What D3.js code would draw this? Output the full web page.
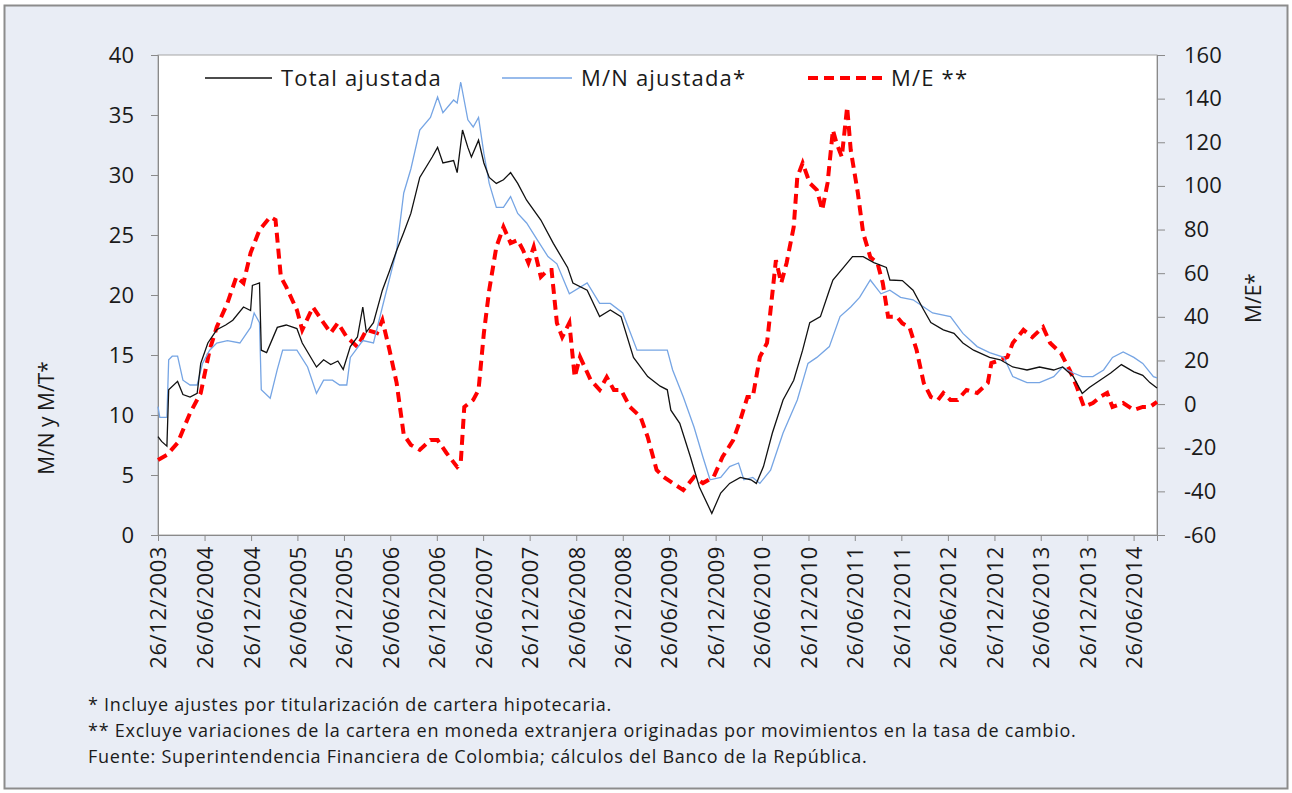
<!DOCTYPE html>
<html>
<head>
<meta charset="utf-8">
<script src="https://cdn.jsdelivr.net/npm/d3@7"></script>
<style>
  body { margin: 0; background: #fff; }
  text { font-family: "Open Sans", Lato, sans-serif; fill: #1a1a1a; }
  .axis path, .axis line { stroke: #8a8a8a; }
</style>
</head>
<body>
<svg id="chart" width="1292" height="793"></svg>
<script>
// weekly series, weeks counted from 26/12/2003
const startDate = new Date(2003, 11, 26);
const lastWeek = 561;

const tickLabels = ["26/12/2003", "26/06/2004", "26/12/2004", "26/06/2005", "26/12/2005",
  "26/06/2006", "26/12/2006", "26/06/2007", "26/12/2007", "26/06/2008", "26/12/2008",
  "26/06/2009", "26/12/2009", "26/06/2010", "26/12/2010", "26/06/2011", "26/12/2011",
  "26/06/2012", "26/12/2012", "26/06/2013", "26/12/2013", "26/06/2014"];

const seriesNames = ["Total ajustada", "M/N ajustada*", "M/E **"];

// Total ajustada (left axis)
const totalWeeks = [0, 2, 5, 6, 11, 14, 18, 22, 24, 28, 33, 38, 42, 48, 52, 53, 57, 58, 61, 67,
  72, 78, 81, 85, 89, 93, 97, 101, 104, 108, 112, 115, 117, 121, 126, 130, 134, 138, 142, 147,
  154, 157, 160, 166, 168, 171, 174, 176, 180, 183, 186, 190, 194, 198, 202, 207, 215, 222, 230, 233,
  241, 248, 254, 260, 267, 275, 282, 286, 288, 293, 299, 304, 311, 316, 321, 327, 333, 336, 340, 345,
  351, 357, 362, 366, 372, 377, 379, 385, 390, 396, 402, 409, 411, 418, 424, 430, 434, 441, 447, 452,
  458, 467, 473, 480, 488, 495, 503, 508, 514, 519, 523, 529, 535, 541, 548, 553, 557, 561];
const totalValues = [8.2, 7.8, 7.4, 12.1, 12.8, 11.7, 11.5, 11.8, 14.3, 16.0, 17.1, 17.5, 17.9, 19.0, 18.7, 20.8, 21.0, 15.4, 15.2, 17.3,
  17.5, 17.2, 16.0, 15.0, 14.0, 14.6, 14.2, 14.5, 13.8, 15.7, 16.5, 19.0, 16.9, 17.7, 20.4, 22.0, 23.7, 25.2, 26.8, 29.8,
  31.5, 32.3, 31.0, 31.2, 30.2, 33.75, 32.3, 31.5, 32.9, 31.0, 29.8, 29.3, 29.6, 30.2, 29.3, 27.9, 26.25, 24.3, 22.3, 21.0,
  20.4, 18.2, 18.75, 18.2, 14.8, 13.2, 12.4, 12.1, 10.4, 9.3, 6.5, 4.0, 1.8, 3.5, 4.3, 4.8, 4.6, 4.3, 5.7, 8.5,
  11.25, 12.9, 15.4, 17.7, 18.2, 20.4, 21.25, 22.3, 23.2, 23.2, 22.7, 22.3, 21.25, 21.2, 20.4, 18.75, 17.7, 17.1, 16.8, 16.0,
  15.4, 14.8, 14.6, 14.0, 13.75, 14.0, 13.75, 14.0, 13.2, 11.8, 12.3, 12.9, 13.5, 14.2, 13.6, 13.3, 12.7, 12.25];

// M/N ajustada (left axis)
const mnWeeks = [0, 1, 5, 6, 8, 11, 14, 18, 22, 25, 29, 33, 39, 46, 52, 54, 57, 58, 63, 67,
  70, 78, 84, 89, 93, 98, 102, 106, 108, 115, 121, 126, 134, 138, 142, 147, 153, 157, 160, 166,
  168, 170, 174, 177, 180, 183, 186, 190, 194, 198, 202, 207, 213, 219, 224, 231, 241, 248, 254, 261,
  269, 276, 286, 289, 295, 301, 306, 310, 316, 321, 326, 329, 334, 338, 344, 351, 359, 365, 370, 377,
  383, 389, 394, 400, 406, 411, 417, 424, 430, 435, 445, 452, 460, 467, 475, 480, 488, 495, 503, 508,
  514, 519, 525, 531, 536, 542, 548, 553, 559, 561];
const mnValues = [10.7, 9.8, 9.8, 14.6, 14.9, 14.9, 12.9, 12.5, 12.5, 14.3, 15.4, 16.0, 16.2, 16.0, 17.3, 18.5, 17.7, 12.1, 11.4, 13.8,
  15.4, 15.4, 14.0, 11.8, 12.9, 12.9, 12.5, 12.5, 14.8, 16.2, 16.0, 19.0, 23.7, 28.5, 30.5, 33.75, 34.8, 36.5, 35.2, 36.25,
  36.0, 37.75, 34.6, 34.0, 34.8, 31.8, 29.3, 27.3, 27.3, 28.2, 26.8, 26.0, 24.6, 23.2, 22.6, 20.1, 21.0, 19.3, 19.3, 18.5,
  15.4, 15.4, 15.4, 13.75, 11.5, 9.0, 6.5, 4.6, 4.8, 5.7, 6.0, 4.6, 4.8, 4.3, 5.4, 8.5, 11.25, 14.3, 14.8, 15.7,
  18.2, 19.0, 19.8, 21.25, 20.1, 20.4, 19.8, 19.6, 19.0, 18.5, 18.2, 16.8, 15.7, 15.2, 14.8, 13.2, 12.7, 12.7, 13.2, 14.0,
  13.5, 13.2, 13.2, 13.75, 14.8, 15.25, 14.8, 14.3, 13.2, 13.1];

// M/E (right axis)
const meWeeks = [0, 5, 11, 18, 24, 29, 33, 39, 44, 48, 52, 57, 63, 66, 69, 72, 78, 81, 87, 93,
  97, 101, 106, 112, 117, 123, 126, 130, 134, 138, 142, 147, 153, 157, 162, 168, 170, 172, 177, 180,
  183, 186, 190, 194, 198, 202, 205, 208, 211, 215, 219, 221, 224, 227, 231, 234, 237, 243, 248, 252,
  256, 260, 265, 271, 275, 280, 284, 289, 295, 301, 306, 312, 317, 323, 327, 331, 334, 338, 342, 344,
  347, 350, 353, 357, 359, 362, 366, 370, 373, 376, 379, 381, 384, 387, 389, 393, 396, 400, 404, 407,
  410, 415, 418, 422, 426, 430, 434, 438, 441, 445, 449, 454, 460, 466, 468, 473, 477, 480, 486, 491,
  497, 501, 507, 512, 516, 520, 525, 529, 533, 536, 542, 548, 553, 557, 561];
const meValues = [-25.6, -23.3, -17.8, -4.1, 5.1, 24.8, 35.3, 46.3, 58.3, 55.5, 69.3, 79.8, 85.8, 84.4, 58.3, 53.7, 43.1, 34.0, 44.5, 37.2,
  32.6, 37.2, 30.7, 26.2, 34.0, 32.6, 38.5, 24.8, 9.7, -14.0, -18.7, -21.0, -16.5, -16.5, -22.4, -28.8, -27.0, -1.3, 1.9, 6.5,
  32.6, 52.3, 72.0, 81.2, 73.8, 75.2, 70.6, 64.7, 72.0, 58.3, 61.5, 61.5, 37.2, 30.7, 37.2, 12.4, 21.6, 11.0, 6.5, 12.4,
  6.5, 6.5, -1.3, -5.9, -15.1, -30.2, -33.4, -36.2, -39.4, -33.4, -36.2, -33.4, -24.25, -16.5, -7.3, 3.25, 3.25, 21.6, 28.0, 43.1,
  66.0, 55.5, 64.7, 81.2, 104.0, 110.5, 101.3, 98.1, 89.0, 101.3, 125.6, 119.7, 113.3, 136.2, 116.5, 96.8, 78.4, 67.4, 64.7, 55.5,
  40.0, 40.0, 37.0, 35.3, 24.8, 9.7, 3.25, 1.9, 5.1, 1.9, 1.9, 6.5, 5.1, 9.7, 18.8, 20.2, 21.6, 28.0, 34.0, 30.7,
  35.3, 28.0, 23.4, 15.6, 7.8, -1.3, 0.5, 3.25, 5.1, -1.3, 0.5, -2.7, -1.3, -1.3, 1.0];

const footnotes = [
  "* Incluye ajustes por titularización de cartera hipotecaria.",
  "** Excluye variaciones de la cartera en moneda extranjera originadas por movimientos en la tasa de cambio.",
  "Fuente: Superintendencia Financiera de Colombia; cálculos del Banco de la República."
];

const W = 1292, H = 793;
const plot = { left: 158, right: 1157, top: 55, bottom: 535 };
const svg = d3.select("#chart");

// background panel
svg.append("rect").attr("x", 4.5).attr("y", 5.5).attr("width", W - 9).attr("height", H - 10)
  .attr("fill", "#e9edf5").attr("stroke", "#8c8c8c").attr("stroke-width", 2);
svg.append("rect").attr("x", plot.left).attr("y", plot.top)
  .attr("width", plot.right - plot.left).attr("height", plot.bottom - plot.top)
  .attr("fill", "#fff").attr("stroke", "#a6a6a6").attr("stroke-width", 1);

const weekDate = w => d3.timeDay.offset(startDate, w * 7);
const parse = d3.timeParse("%d/%m/%Y");

const x = d3.scaleTime().domain([startDate, weekDate(lastWeek)]).range([plot.left, plot.right]);
const yLeft = d3.scaleLinear().domain([0, 40]).range([plot.bottom, plot.top]);
const yRight = d3.scaleLinear().domain([-60, 160]).range([plot.bottom, plot.top]);

// axes
const gx = svg.append("g").attr("class", "axis").attr("transform", `translate(0,${plot.bottom})`)
  .call(d3.axisBottom(x).tickValues(tickLabels.map(parse)).tickSize(6)
    .tickFormat(d3.timeFormat("%d/%m/%Y")));
gx.selectAll("text").attr("transform", "rotate(-90)").attr("x", -11).attr("y", 0)
  .attr("dy", "0.36em").attr("text-anchor", "end")
  .style("font-size", "22px").style("letter-spacing", "0.6px");

const gl = svg.append("g").attr("class", "axis").attr("transform", `translate(${plot.left},0)`)
  .call(d3.axisLeft(yLeft).tickValues(d3.range(0, 41, 5)).tickSize(7).tickPadding(17));
gl.selectAll("text").style("font-size", "22px");

const gr = svg.append("g").attr("class", "axis").attr("transform", `translate(${plot.right},0)`)
  .call(d3.axisRight(yRight).tickValues(d3.range(-60, 161, 20)).tickSize(8).tickPadding(19)
    .tickFormat(d => String(d)));
gr.selectAll("text").style("font-size", "22px");
svg.selectAll(".axis .domain").attr("stroke", "#8a8a8a");

svg.append("text").attr("transform", "translate(54,418) rotate(-90)")
  .attr("text-anchor", "middle").style("font-size", "21px").text("M/N y M/T*");
svg.append("text").attr("transform", "translate(1261,298) rotate(-90)")
  .attr("text-anchor", "middle").style("font-size", "21px").text("M/E*");

// lines
const lineL = d3.line().x(d => x(weekDate(d[0]))).y(d => yLeft(d[1]));
const lineR = d3.line().x(d => x(weekDate(d[0]))).y(d => yRight(d[1]));

svg.append("path").datum(d3.zip(meWeeks, meValues)).attr("d", lineR)
  .attr("fill", "none").attr("stroke", "#ff0000").attr("stroke-width", 4)
  .attr("stroke-dasharray", "10,6");
svg.append("path").datum(d3.zip(mnWeeks, mnValues)).attr("d", lineL)
  .attr("fill", "none").attr("stroke", "#76a5e4").attr("stroke-width", 1.3);
svg.append("path").datum(d3.zip(totalWeeks, totalValues)).attr("d", lineL)
  .attr("fill", "none").attr("stroke", "#111").attr("stroke-width", 1.3);

// legend
const legendX = [205, 502, 808];
const legendStyle = [
  { stroke: "#111", width: 1.5, dash: null, len: 67 },
  { stroke: "#76a5e4", width: 1.5, dash: null, len: 70 },
  { stroke: "#ff0000", width: 4, dash: "10,6", len: 74 }
];
seriesNames.forEach((name, i) => {
  const g = svg.append("g").attr("transform", `translate(${legendX[i]},78)`);
  g.append("line").attr("x1", 0).attr("x2", legendStyle[i].len)
    .attr("stroke", legendStyle[i].stroke).attr("stroke-width", legendStyle[i].width)
    .attr("stroke-dasharray", legendStyle[i].dash);
  g.append("text").attr("x", legendStyle[i].len + 9).attr("dy", "0.36em")
    .style("font-size", "22px").style("letter-spacing", "1.2px").text(name);
});

// notes
svg.selectAll(".note").data(footnotes).enter().append("text").attr("class", "note")
  .attr("x", 88).attr("y", (d, i) => 711 + i * 26)
  .style("font-size", "18px").style("letter-spacing", "0.75px").text(d => d);
</script>
</body>
</html>
